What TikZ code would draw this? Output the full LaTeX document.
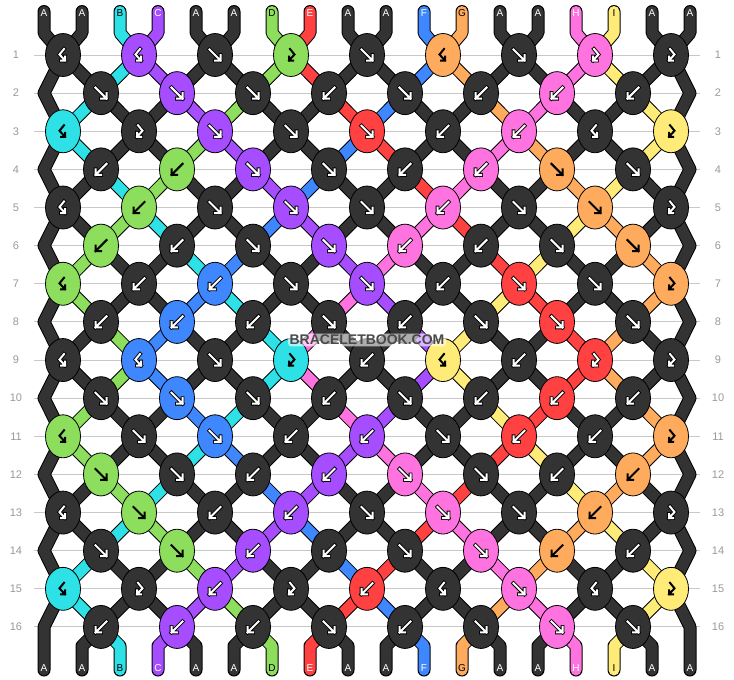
\documentclass[tikz,border=0pt]{standalone}
\usepackage{fontspec}
\setmainfont{Liberation Sans}
\definecolor{cA}{HTML}{333333}
\definecolor{cB}{HTML}{2DE1E6}
\definecolor{cC}{HTML}{A64DFF}
\definecolor{cD}{HTML}{8CDE5C}
\definecolor{cE}{HTML}{FF4141}
\definecolor{cF}{HTML}{3F87FF}
\definecolor{cG}{HTML}{FFAB5E}
\definecolor{cH}{HTML}{FF73E1}
\definecolor{cI}{HTML}{FFEB78}
\definecolor{gridgray}{HTML}{C8C8C8}
\definecolor{numgray}{HTML}{9A9A9A}
\definecolor{wmgray}{HTML}{4A4A4A}
\def\fgA{white}\def\fgB{black}\def\fgC{white}\def\fgD{black}\def\fgE{white}
\def\fgF{white}\def\fgG{black}\def\fgH{white}\def\fgI{black}
\def\olA{1}\def\olB{0}\def\olC{1}\def\olD{0}\def\olE{1}
\def\olF{1}\def\olG{0}\def\olH{1}\def\olI{0}
% knot types per row: 1=forward, 2=backward, 3=forward-backward, 4=backward-forward
\expandafter\def\csname rt1\endcsname{4,4,1,3,1,4,1,3,3}
\expandafter\def\csname rt2\endcsname{1,1,1,2,1,2,2,2}
\expandafter\def\csname rt3\endcsname{4,3,1,1,1,2,2,4,3}
\expandafter\def\csname rt4\endcsname{2,2,1,1,2,2,1,1}
\expandafter\def\csname rt5\endcsname{4,2,1,1,1,2,1,1,3}
\expandafter\def\csname rt6\endcsname{2,2,1,1,2,2,1,1}
\expandafter\def\csname rt7\endcsname{4,2,2,1,1,2,1,1,3}
\expandafter\def\csname rt8\endcsname{2,2,2,1,2,1,1,1}
\expandafter\def\csname rt9\endcsname{4,4,1,3,2,4,2,3,3}
\expandafter\def\csname rt10\endcsname{1,1,1,2,1,2,2,2}
\expandafter\def\csname rt11\endcsname{4,1,1,2,2,1,2,2,3}
\expandafter\def\csname rt12\endcsname{1,1,2,2,1,1,2,2}
\expandafter\def\csname rt13\endcsname{4,1,2,2,1,1,1,2,3}
\expandafter\def\csname rt14\endcsname{1,1,2,2,1,1,2,2}
\expandafter\def\csname rt15\endcsname{4,3,2,3,2,4,1,4,3}
\expandafter\def\csname rt16\endcsname{2,2,2,1,2,1,1,1}
\tikzset{
  gridline/.style={draw=gridgray, line width=1pt},
  rownum/.style={text=numgray, font=\fontsize{11pt}{13pt}\selectfont, inner sep=0pt},
  endlabel/.style={font=\fontsize{10pt}{12pt}\selectfont, inner sep=0pt},
  strout/.style={line width=13pt, draw=black, line cap=round, line join=round},
  strin/.style={line width=11pt, line cap=round, line join=round},
  knotshape/.style={line width=0.8pt, draw=black},
  arrowline/.style={line cap=rect, line join=miter},
  wm/.style={font=\fontsize{14pt}{16pt}\selectfont\bfseries, inner sep=1.5pt,
    fill=white, fill opacity=0.6, text opacity=1, rounded corners=3pt},
}
\newcommand\bbknot[4]{%
  \filldraw[knotshape, fill=c#3] (#1,#2) ellipse [x radius=17.5pt, y radius=21.5pt];
  \ifcase#4\relax\or
    \def\ap{(-5.5,-5.5) -- (5.5,5.5) (5.5,0) -- (5.5,5.5) -- (0,5.5)}\or
    \def\ap{(5.5,-5.5) -- (-5.5,5.5) (-5.5,0) -- (-5.5,5.5) -- (0,5.5)}\or
    \def\ap{(-1,-6) -- (3.5,-0.5) -- (-2,5.5) (-2,1.5) -- (-2,5.5) -- (2,5.5)}\or
    \def\ap{(1,-6) -- (-3.5,-0.5) -- (2,5.5) (2,1.5) -- (2,5.5) -- (-2,5.5)}\fi
  \edef\kfg{\csname fg#3\endcsname}%
  \ifnum\csname ol#3\endcsname=1
    \edef\tmp{\noexpand\draw[arrowline, line width=3.8pt, draw=black, shift={(#1,#2)}] \ap;}\tmp
  \fi
  \edef\tmp{\noexpand\draw[arrowline, line width=2pt, draw=\kfg, shift={(#1,#2)}] \ap;}\tmp
}
\begin{document}
\begin{tikzpicture}[x=1pt,y=-1pt]
\useasboundingbox (0,0) rectangle (734,680);
\fill[white] (0,0) rectangle (734,680);
% ---- simulation of the strings ----
\gdef\knotdraw{}
\foreach \p/\strc in {1/A,2/A,3/B,4/C,5/A,6/A,7/D,8/E,9/A,10/A,11/F,12/G,13/A,14/A,15/H,16/I,17/A,18/A}{%
  \expandafter\xdef\csname pos\p\endcsname{\p}%
  \expandafter\xdef\csname col\p\endcsname{\strc}%
  \edef\xx{\the\numexpr6+38*\p\relax}%
  \expandafter\xdef\csname path\p\endcsname{(\xx,11.5) -- (\xx,33)}%
}
\foreach \rowi in {1,...,16}{%
  \pgfmathsetmacro\yy{55+38.13*(\rowi-1)}%
  \ifodd\rowi\relax \def\off{-1}\else \def\off{0}\fi
  \expandafter\let\expandafter\types\csname rt\rowi\endcsname
  \foreach \ktype [count=\kidx] in \types {%
    \edef\pL{\the\numexpr2*\kidx+\off\relax}%
    \edef\pR{\the\numexpr\pL+1\relax}%
    \edef\sL{\csname pos\pL\endcsname}%
    \edef\sR{\csname pos\pR\endcsname}%
    \edef\kx{\the\numexpr25+38*\pL\relax}%
    \ifodd\ktype\relax \edef\kc{\sL}\else \edef\kc{\sR}\fi
    \edef\kl{\csname col\kc\endcsname}%
    \xdef\knotdraw{\unexpanded\expandafter{\knotdraw}\noexpand\bbknot{\kx}{\yy}{\kl}{\ktype}}%
    \expandafter\xdef\csname path\sL\endcsname{\csname path\sL\endcsname\space -- (\kx,\yy)}%
    \expandafter\xdef\csname path\sR\endcsname{\csname path\sR\endcsname\space -- (\kx,\yy)}%
    \ifnum\ktype<3
      \expandafter\xdef\csname pos\pL\endcsname{\sR}%
      \expandafter\xdef\csname pos\pR\endcsname{\sL}%
    \fi
  }%
  \ifodd\rowi\relax\else
    \edef\sA{\csname pos1\endcsname}%
    \expandafter\xdef\csname path\sA\endcsname{\csname path\sA\endcsname\space -- (44,\yy)}%
    \edef\sB{\csname pos18\endcsname}%
    \expandafter\xdef\csname path\sB\endcsname{\csname path\sB\endcsname\space -- (690,\yy)}%
  \fi
}
\foreach \p in {1,...,18}{%
  \edef\sX{\csname pos\p\endcsname}%
  \edef\xx{\the\numexpr6+38*\p\relax}%
  \expandafter\xdef\csname path\sX\endcsname{\csname path\sX\endcsname\space -- (\xx,646) -- (\xx,670)}%
  \expandafter\xdef\csname bot\p\endcsname{\csname col\sX\endcsname}%
}
% ---- grid and row numbers ----
\foreach \rowi in {1,...,16}{%
  \pgfmathsetmacro\yy{55+38.13*(\rowi-1)}%
  \draw[gridline] (34,\yy) -- (700,\yy);
  \node[rownum] (rl\rowi) at (16,\yy) {\rowi};
  \node[rownum] (rr\rowi) at (718,\yy) {\rowi};
}
% ---- strings ----
\foreach \i in {1,...,18}{%
  \edef\strc{\csname col\i\endcsname}%
  \edef\tmp{\noexpand\draw[strout] \csname path\i\endcsname;}\tmp
  \edef\tmp{\noexpand\draw[strin, draw=c\strc] \csname path\i\endcsname;}\tmp
}
% ---- knots ----
\knotdraw
% ---- end labels ----
\foreach \p in {1,...,18}{%
  \edef\xx{\the\numexpr6+38*\p\relax}%
  \edef\strc{\csname col\p\endcsname}%
  \edef\lfg{\csname fg\strc\endcsname}%
  \node[endlabel, text=\lfg] (tl\p) at (\xx,13.5) {\strc};
  \edef\strc{\csname bot\p\endcsname}%
  \edef\lfg{\csname fg\strc\endcsname}%
  \node[endlabel, text=\lfg] (bl\p) at (\xx,668.5) {\strc};
}
% ---- watermark ----
\node[wm, text=wmgray] (wm) at (367,340) {BRACELETBOOK.COM};
\end{tikzpicture}
\end{document}
